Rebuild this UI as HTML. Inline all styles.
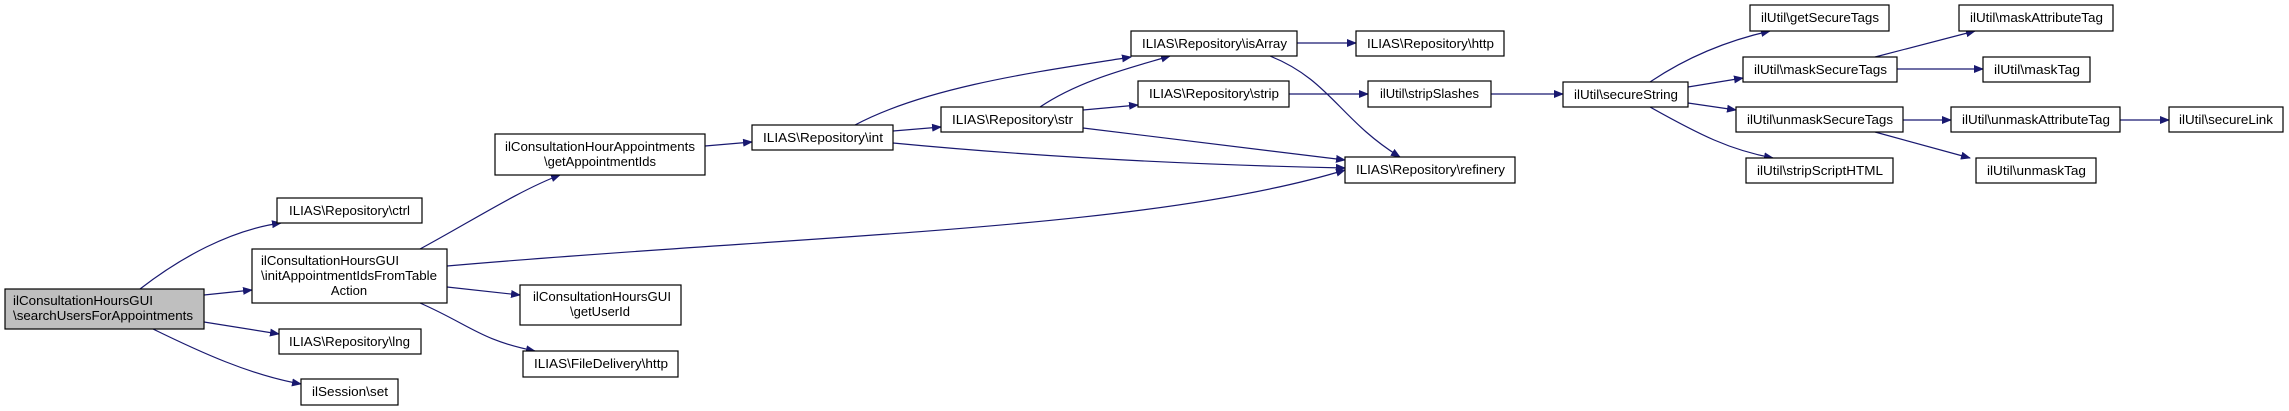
<!DOCTYPE html>
<html><head><meta charset="utf-8"><style>
html,body{margin:0;padding:0;background:#fff;width:2289px;height:411px;overflow:hidden}
svg text{font-family:"Liberation Sans",Arial,sans-serif;font-size:13px;fill:#000}
</style></head><body>
<svg width="2289" height="411" viewBox="0 0 2289 411" xmlns="http://www.w3.org/2000/svg">
<defs><marker id="a" markerWidth="10" markerHeight="8" refX="9" refY="4" orient="auto" markerUnits="userSpaceOnUse"><path d="M0,0 L10,4 L0,8 z" fill="#191970"/></marker></defs>
<g fill="none" stroke="#191970" stroke-width="1.2" marker-end="url(#a)">
<path d="M140,289 C180,258 230,230 281,223"/>
<path d="M204,295 L252,290"/>
<path d="M204,322 L279,334"/>
<path d="M153,329 C200,352 250,375 301,384"/>
<path d="M420,249 C470,222 520,190 560,175"/>
<path d="M447,266 C800,235 1150,230 1345,170"/>
<path d="M447,287 L520,295"/>
<path d="M420,303 C470,325 480,340 535,351"/>
<path d="M705,146 L752,142"/>
<path d="M855,125 C930,85 1050,70 1131,57"/>
<path d="M893,131 L941,127"/>
<path d="M893,143 C1050,158 1200,165 1345,168"/>
<path d="M1040,107 C1080,80 1130,68 1170,56"/>
<path d="M1083,110 L1138,105"/>
<path d="M1083,128 L1345,160"/>
<path d="M1297,43 L1356,43"/>
<path d="M1270,56 C1330,80 1340,120 1400,157"/>
<path d="M1289,94 L1368,94"/>
<path d="M1491,94 L1563,94"/>
<path d="M1650,82 C1690,55 1730,40 1770,31"/>
<path d="M1688,87 L1743,78"/>
<path d="M1688,103 L1736,110"/>
<path d="M1650,107 C1700,135 1730,150 1773,158"/>
<path d="M1875,57 L1975,31"/>
<path d="M1897,69 L1983,69"/>
<path d="M1903,120 L1951,120"/>
<path d="M1875,132 L1970,158"/>
<path d="M2120,120 L2169,120"/>
</g>
<g stroke="#000" stroke-width="1.2" fill="#fff">
<rect x="5" y="289" width="199" height="40" fill="#bfbfbf"/>
<rect x="277" y="198" width="145" height="25"/>
<rect x="252" y="249" width="195" height="54"/>
<rect x="279" y="329" width="142" height="25"/>
<rect x="301" y="379" width="97" height="26"/>
<rect x="495" y="134" width="210" height="41"/>
<rect x="520" y="285" width="161" height="40"/>
<rect x="523" y="351" width="155" height="26"/>
<rect x="752" y="125" width="141" height="25"/>
<rect x="941" y="107" width="142" height="25"/>
<rect x="1131" y="31" width="166" height="25"/>
<rect x="1356" y="31" width="148" height="25"/>
<rect x="1138" y="81" width="151" height="26"/>
<rect x="1368" y="81" width="123" height="26"/>
<rect x="1345" y="157" width="170" height="26"/>
<rect x="1563" y="82" width="125" height="25"/>
<rect x="1750" y="5" width="139" height="26"/>
<rect x="1743" y="57" width="154" height="25"/>
<rect x="1736" y="107" width="167" height="25"/>
<rect x="1746" y="158" width="147" height="25"/>
<rect x="1959" y="5" width="154" height="26"/>
<rect x="1983" y="57" width="107" height="25"/>
<rect x="1951" y="107" width="169" height="25"/>
<rect x="1976" y="158" width="120" height="25"/>
<rect x="2169" y="107" width="114" height="25"/>
</g>
<g lengthAdjust="spacingAndGlyphs">
<text x="13" y="305" textLength="140" lengthAdjust="spacingAndGlyphs">ilConsultationHoursGUI</text>
<text x="13" y="320" textLength="180" lengthAdjust="spacingAndGlyphs">\searchUsersForAppointments</text>
<text x="289" y="215" textLength="121" lengthAdjust="spacingAndGlyphs">ILIAS\Repository\ctrl</text>
<text x="261" y="265" textLength="138" lengthAdjust="spacingAndGlyphs">ilConsultationHoursGUI</text>
<text x="261" y="280" textLength="176" lengthAdjust="spacingAndGlyphs">\initAppointmentIdsFromTable</text>
<text x="349" y="295" text-anchor="middle">Action</text>
<text x="289" y="346" textLength="121" lengthAdjust="spacingAndGlyphs">ILIAS\Repository\lng</text>
<text x="312" y="396" textLength="76" lengthAdjust="spacingAndGlyphs">ilSession\set</text>
<text x="505" y="151" textLength="190" lengthAdjust="spacingAndGlyphs">ilConsultationHourAppointments</text>
<text x="600" y="166" text-anchor="middle">\getAppointmentIds</text>
<text x="533" y="301" textLength="138" lengthAdjust="spacingAndGlyphs">ilConsultationHoursGUI</text>
<text x="600" y="316" text-anchor="middle">\getUserId</text>
<text x="534" y="368" textLength="134" lengthAdjust="spacingAndGlyphs">ILIAS\FileDelivery\http</text>
<text x="763" y="142" textLength="120" lengthAdjust="spacingAndGlyphs">ILIAS\Repository\int</text>
<text x="952" y="124" textLength="121" lengthAdjust="spacingAndGlyphs">ILIAS\Repository\str</text>
<text x="1142" y="48" textLength="145" lengthAdjust="spacingAndGlyphs">ILIAS\Repository\isArray</text>
<text x="1367" y="48" textLength="127" lengthAdjust="spacingAndGlyphs">ILIAS\Repository\http</text>
<text x="1149" y="98" textLength="130" lengthAdjust="spacingAndGlyphs">ILIAS\Repository\strip</text>
<text x="1380" y="98" textLength="99" lengthAdjust="spacingAndGlyphs">ilUtil\stripSlashes</text>
<text x="1356" y="174" textLength="149" lengthAdjust="spacingAndGlyphs">ILIAS\Repository\refinery</text>
<text x="1574" y="99" textLength="104" lengthAdjust="spacingAndGlyphs">ilUtil\secureString</text>
<text x="1761" y="22" textLength="118" lengthAdjust="spacingAndGlyphs">ilUtil\getSecureTags</text>
<text x="1754" y="74" textLength="133" lengthAdjust="spacingAndGlyphs">ilUtil\maskSecureTags</text>
<text x="1747" y="124" textLength="146" lengthAdjust="spacingAndGlyphs">ilUtil\unmaskSecureTags</text>
<text x="1757" y="175" textLength="126" lengthAdjust="spacingAndGlyphs">ilUtil\stripScriptHTML</text>
<text x="1970" y="22" textLength="133" lengthAdjust="spacingAndGlyphs">ilUtil\maskAttributeTag</text>
<text x="1994" y="74" textLength="86" lengthAdjust="spacingAndGlyphs">ilUtil\maskTag</text>
<text x="1962" y="124" textLength="148" lengthAdjust="spacingAndGlyphs">ilUtil\unmaskAttributeTag</text>
<text x="1987" y="175" textLength="99" lengthAdjust="spacingAndGlyphs">ilUtil\unmaskTag</text>
<text x="2179" y="124" textLength="94" lengthAdjust="spacingAndGlyphs">ilUtil\secureLink</text>
</g>
</svg>
</body></html>
